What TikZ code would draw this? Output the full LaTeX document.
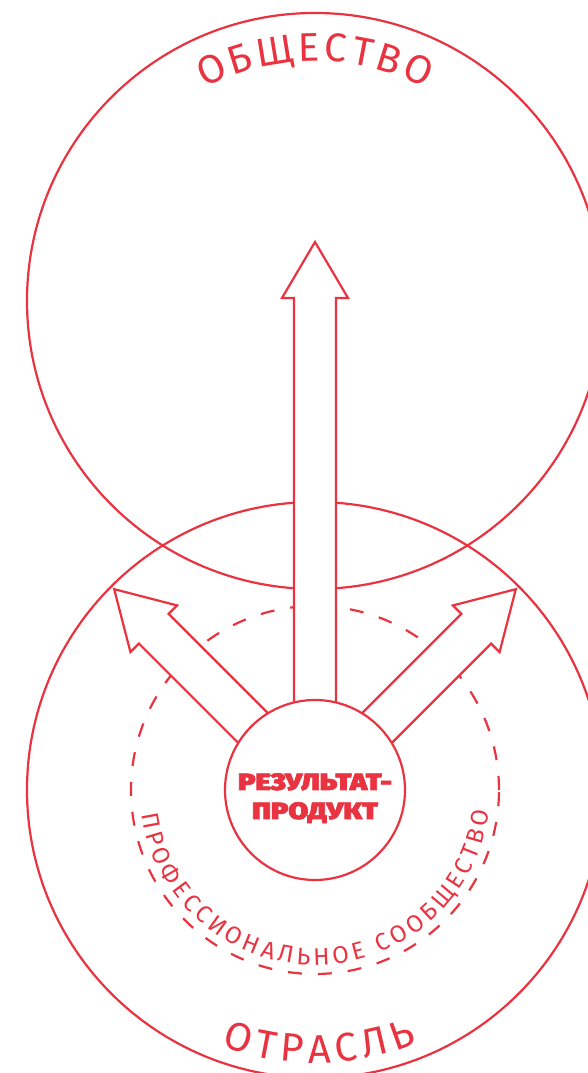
\documentclass[tikz,border=0pt]{standalone}
\usepackage{fontspec}
\usepackage{graphicx}
\setmainfont{Fira Sans}
\newfontfamily\thinfont{Fira Sans}
\newfontfamily\heavyfont{Fira Sans}[UprightFont=* Black, FakeBold=2.5]
\usetikzlibrary{decorations.text}
\definecolor{brand}{HTML}{E93340}
\begin{document}
\begin{tikzpicture}[x=1pt,y=1pt,
  ln/.style={draw=brand, line width=2.2pt},
  ring/.style={circle, ln, inner sep=0pt},
  dashring/.style={circle, draw=brand, line width=2.2pt, inner sep=0pt, dash pattern=on 14pt off 16pt},
  arrowbox/.style={ln, fill=white, line join=miter},
  label/.style={text=brand, inner sep=0pt, anchor=base},
]
\useasboundingbox (0,0) rectangle (588,1073);
\clip (0,0) rectangle (588,1073);

% big circles
\node[ring, minimum size=576pt] (society) at (315,772) {};
\node[ring, minimum size=576pt] (industry) at (315,283) {};
% dashed circle
\node[dashring, minimum size=368pt] (community) at (315,283) {};

% curved texts
\path[decorate, decoration={text along path,
   text={|\thinfont\fontsize{40}{40}\selectfont\color{brand}|ОБЩЕСТВО},
   text align=fit to path}]
  ([shift={(117.5:240)}]315,772) arc[start angle=117.5, end angle=62.5, radius=240];
\path[decorate, decoration={text along path,
   text={|\thinfont\fontsize{40}{40}\selectfont\color{brand}|ОТРАСЛЬ},
   text align=fit to path}]
  ([shift={(250:273)}]315,283) arc[start angle=250, end angle=292, radius=273];
\path[decorate, decoration={text along path,
   text={|\thinfont\fontsize{24}{24}\selectfont\color{brand}|ПРОФЕССИОНАЛЬНОЕ СООБЩЕСТВО},
   text align=fit to path}]
  ([shift={(188:175)}]315,283) arc[start angle=188, end angle=353, radius=175];

% arrows
\foreach \a/\L in {90/548, 135/284, 45/284} {
  \begin{scope}[shift={(315,283)}, rotate=\a]
    \draw[arrowbox] (60,-21) -- ({\L-56},-21) -- ({\L-56},-33) -- (\L,0)
      -- ({\L-56},33) -- ({\L-56},21) -- (60,21) -- cycle;
  \end{scope}
}

% core
\node[ring, fill=white, minimum size=180pt] (core) at (315,283) {};
\node[label, font=\heavyfont\fontsize{23.5}{23.5}\selectfont] (t1) at (315,283) {\scalebox{1.22}[1]{РЕЗУЛЬТАТ-}};
\node[label, font=\heavyfont\fontsize{23.5}{23.5}\selectfont] (t2) at (315,254) {\scalebox{1.22}[1]{ПРОДУКТ}};
\end{tikzpicture}
\end{document}
